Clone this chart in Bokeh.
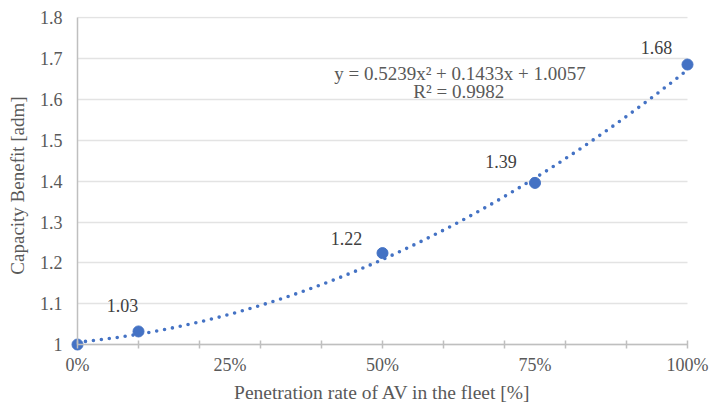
import numpy as np
from bokeh.plotting import figure
from bokeh.models import Range1d, FixedTicker, CustomJSTickFormatter, Label, ColumnDataSource, LinearAxis
from bokeh.embed import file_html
from bokeh.resources import INLINE

# ---- data ----
penetration = [0.0, 0.10, 0.50, 0.75, 1.00]
capacity_benefit = [1.00, 1.032, 1.224, 1.396, 1.686]
point_labels = ["", "1.03", "1.22", "1.39", "1.68"]
trend_coeffs = [0.5239, 0.1433, 1.0057]   # y = a x^2 + b x + c (shown on chart)
equation_text = "y = 0.5239x\u00b2 + 0.1433x + 1.0057"
r2_text = "R\u00b2 = 0.9982"
x_ticks = [0.0, 0.25, 0.50, 0.75, 1.00]
x_tick_labels = ["0%", "25%", "50%", "75%", "100%"]
x_minor_ticks = [0.0, 0.1, 0.2, 0.3, 0.4, 0.5, 0.6, 0.7, 0.8, 0.9, 1.0]
y_ticks = [1.0, 1.1, 1.2, 1.3, 1.4, 1.5, 1.6, 1.7, 1.8]
x_title = "Penetration rate of AV in the fleet [%]"
y_title = "Capacity Benefit [adm]"

# ---- style ----
FONT = "Liberation Serif"
BLUE = "#4472C4"
TXT = "#595959"
AXC = "#BFBFBF"
pad_x = 10 / 610
pad_y = 10 / 408.75

p = figure(width=709, height=405, output_backend="svg", toolbar_location=None,
           x_range=Range1d(-pad_x, 1 + pad_x),
           y_range=Range1d(1 - pad_y, 1.8 + 1.5 / 408.75),
           min_border_left=67, min_border_right=12, min_border_top=16, min_border_bottom=51)
p.outline_line_color = None
p.background_fill_color = "white"
p.border_fill_color = "white"

# label axes (at the frame edges): text only
xa = p.xaxis[0]
xa.ticker = FixedTicker(ticks=x_ticks, minor_ticks=[])
xa.major_label_overrides = {t: l for t, l in zip(x_ticks, x_tick_labels)}
xa.axis_line_color = None
xa.major_tick_line_color = None
xa.minor_tick_line_color = None
xa.major_tick_in = 0
xa.major_tick_out = 0
xa.major_label_standoff = 0
xa.major_label_text_font = FONT
xa.major_label_text_font_size = "18px"
xa.major_label_text_color = TXT
xa.axis_label = x_title
xa.axis_label_text_font = FONT
xa.axis_label_text_font_size = "19.5px"
xa.axis_label_text_font_style = "normal"
xa.axis_label_text_color = TXT
xa.axis_label_standoff = 4

ya = p.yaxis[0]
ya.ticker = FixedTicker(ticks=y_ticks, minor_ticks=[])
ya.formatter = CustomJSTickFormatter(code="return (Math.round(tick*10)/10).toString();")
ya.axis_line_color = None
ya.major_tick_line_color = None
ya.minor_tick_line_color = None
ya.major_tick_in = 0
ya.major_tick_out = 0
ya.major_label_standoff = 5
ya.major_label_text_font = FONT
ya.major_label_text_font_size = "18px"
ya.major_label_text_color = TXT
ya.axis_label = y_title
ya.axis_label_text_font = FONT
ya.axis_label_text_font_size = "19px"
ya.axis_label_text_font_style = "normal"
ya.axis_label_text_color = TXT
ya.axis_label_standoff = 9

# rule axes (lines + tick marks only) through the data origin
xr = LinearAxis(ticker=FixedTicker(ticks=[], minor_ticks=x_minor_ticks),
                fixed_location=1.0, bounds=(0, 1),
                axis_line_color=AXC, axis_line_width=1.5,
                major_tick_line_color=None, major_tick_in=0, major_tick_out=0,
                minor_tick_line_color=AXC, minor_tick_line_width=1.5,
                minor_tick_in=4, minor_tick_out=4, major_label_standoff=0)
p.add_layout(xr, "above")
yr = LinearAxis(ticker=FixedTicker(ticks=[], minor_ticks=[]),
                fixed_location=0.0, bounds=(1.0, 1.8),
                axis_line_color=AXC, axis_line_width=1.5,
                major_tick_line_color=None, major_tick_in=0, major_tick_out=0,
                minor_tick_line_color=None, minor_tick_in=0, minor_tick_out=0,
                major_label_standoff=0)
p.add_layout(yr, "right")

p.xgrid.visible = False
p.ygrid.ticker = FixedTicker(ticks=y_ticks)
p.ygrid.grid_line_color = "#E3E3E3"
p.ygrid.grid_line_width = 1.3
try:
    p.ygrid.cross_bounds = (0, 1)
except Exception:
    pass

# trend line
xt = np.linspace(0, 1, 300)
yt = np.polyval(trend_coeffs, xt)
p.line(xt, yt, line_color=BLUE, line_width=3.6, line_dash="0 8", line_cap="round")

# data points
src = ColumnDataSource(dict(x=penetration, y=capacity_benefit, lab=point_labels,
                            dx=[0, -16, -36, -34, -31], dy=[0, -26, -15, -21, -17]))
p.scatter("x", "y", source=src, size=11, color=BLUE)
p.text("x", "y", text="lab", source=src, x_offset="dx", y_offset="dy",
       text_align="center", text_baseline="middle", text_font={"value": FONT},
       text_font_size="18px", text_color="#404040")

# equation annotation
p.add_layout(Label(x=0.627, y=1.665, text=equation_text, text_align="center",
                   text_baseline="middle", text_font=FONT, text_font_size="19px",
                   text_color=TXT))
p.add_layout(Label(x=0.625, y=1.621, text=r2_text, text_align="center",
                   text_baseline="middle", text_font=FONT, text_font_size="19px",
                   text_color=TXT))

open("out.html", "w").write(file_html(p, INLINE))
